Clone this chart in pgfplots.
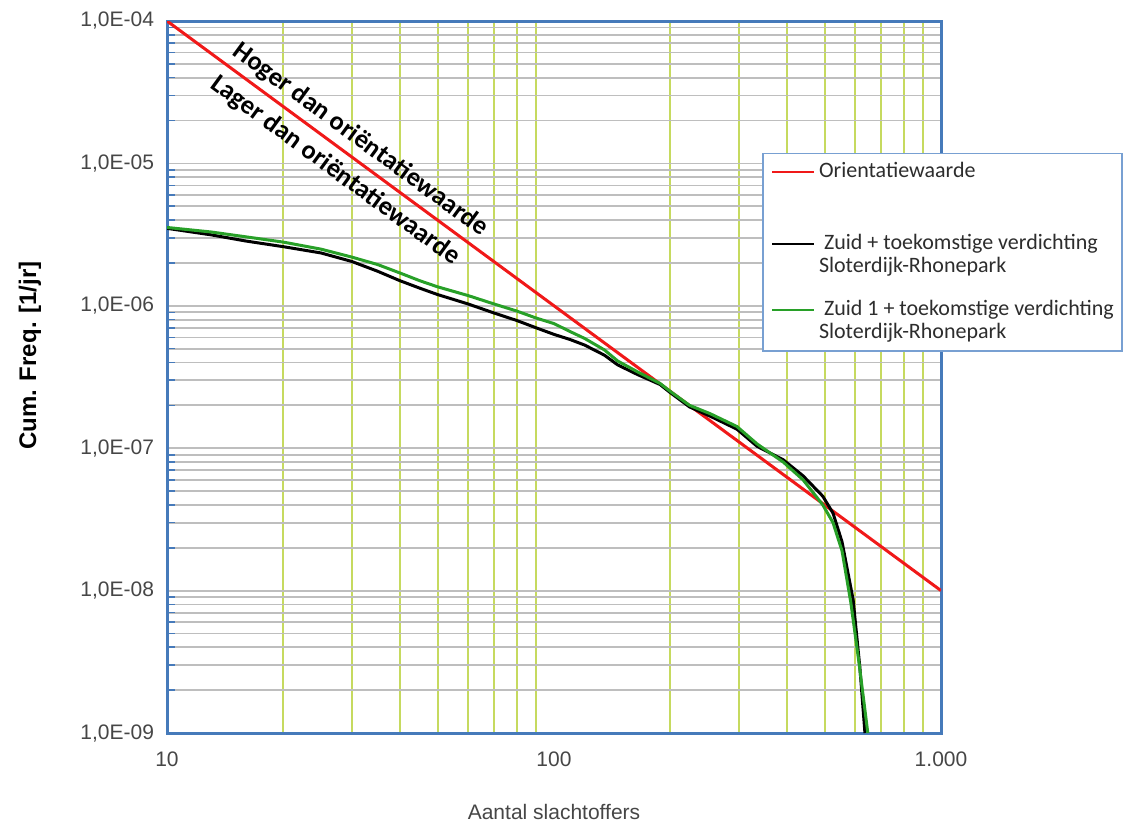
\documentclass[border=0pt]{standalone}
\usepackage{fontspec}
\setmainfont{Liberation Sans}
\newfontfamily\carlito{Carlito}
\usepackage{pgfplots}
\pgfplotsset{compat=1.18}
\usetikzlibrary{calc}
\definecolor{frameblue}{RGB}{70,122,186}
\definecolor{xgrid}{RGB}{198,218,95}
\definecolor{ygrid}{RGB}{190,190,190}
\definecolor{cgreen}{RGB}{40,160,40}
\definecolor{cred}{RGB}{240,25,25}
\definecolor{legborder}{RGB}{120,160,210}
\definecolor{tickgray}{RGB}{70,70,70}
\definecolor{legtext}{RGB}{45,45,45}
\pgfplotsset{
  leglineA/.style={legend image code/.code={\draw[##1, line width=1pt] (0pt,0pt) -- (21pt,0pt);}},
  leglineB/.style={legend image code/.code={\draw[##1, line width=1pt] (0pt,5.5pt) -- (21pt,5.5pt);}},
}

\begin{document}
\begin{tikzpicture}
\begin{axis}[name=ax,
  scale only axis, width=387pt, height=356pt,
  xmode=log, ymode=log,
  xmin=10, xmax=1000, ymin=1e-9, ymax=1e-4,
  xtick={10,100,1000}, xticklabels={10,100,1.000},
  ytick={1e-9,1e-8,1e-7,1e-6,1e-5,1e-4},
  yticklabels={{1,0E-09},{1,0E-08},{1,0E-07},{1,0E-06},{1,0E-05},{1,0E-04}},
  minor xtick={20,30,40,50,60,70,80,90,200,300,400,500,600,700,800,900},
  minor ytick={2e-9,3e-9,4e-9,5e-9,6e-9,7e-9,8e-9,9e-9,
               2e-8,3e-8,4e-8,5e-8,6e-8,7e-8,8e-8,9e-8,
               2e-7,3e-7,4e-7,5e-7,6e-7,7e-7,8e-7,9e-7,
               2e-6,3e-6,4e-6,5e-6,6e-6,7e-6,8e-6,9e-6,
               2e-5,3e-5,4e-5,5e-5,6e-5,7e-5,8e-5,9e-5},
  xmajorgrids=false, xminorgrids=true,
  ymajorgrids=true, yminorgrids=true,
  minor x grid style={xgrid, line width=1pt},
  major y grid style={ygrid, line width=0.9pt},
  minor y grid style={ygrid, line width=0.9pt},
  axis line style={frameblue, line width=1.5pt},
  ytick pos=left,
  major tick length=0pt, minor tick length=4pt,
  minor x tick style={draw=none},
  minor y tick style={frameblue, line width=0.8pt},
  tick label style={font=\fontsize{10.5}{12}\selectfont, text=tickgray},
  xticklabel style={yshift=-6pt},
  yticklabel style={xshift=-3pt},
  xlabel={Aantal slachtoffers},
  ylabel={\bfseries Cum. Freq. [1/jr]},
  xlabel style={at={(axis description cs:0.5,-0.111)}, anchor=center,
     font=\fontsize{10.5}{12}\selectfont, text=tickgray},
  ylabel style={at={(axis description cs:-0.177,0.53)}, anchor=center,
     font=\fontsize{12}{14}\selectfont},
  legend cell align=left,
  legend style={at={(0.769,0.815)}, anchor=north west,
     draw=legborder, line width=0.8pt, fill=white,
     font=\carlito\fontsize{11}{11.5}\selectfont, text=legtext,
     nodes={inner sep=0pt, align=left},
     row sep=12.6pt, column sep=2pt,
     inner xsep=4pt, inner ysep=4.5pt},
]
\addplot[cred, line width=1.5pt, leglineA]
  coordinates {(10,1e-4) (1000,1e-8)};
\addlegendentry{Orientatiewaarde}
\addlegendimage{empty legend}
\addlegendentry{}
\addplot[black, line width=1.5pt, leglineB]
  coordinates {
(10,3.5e-6) (13,3.15e-6) (16,2.85e-6) (20,2.6e-6) (25,2.35e-6) (30,2.05e-6)
(35,1.75e-6) (40,1.5e-6) (45,1.33e-6) (50,1.2e-6) (60,1.03e-6) (70,8.9e-7)
(80,7.9e-7) (90,7.0e-7) (100,6.3e-7) (110,5.8e-7) (120,5.3e-7) (135,4.5e-7)
(146,3.85e-7) (164,3.3e-7) (188,2.8e-7) (200,2.45e-7) (224,1.95e-7)
(253,1.68e-7) (297,1.36e-7) (335,1.03e-7) (391,8.3e-8) (440,6.4e-8)
(495,4.6e-8) (526,3.5e-8) (555,2.2e-8) (593,8.6e-9) (617,2.9e-9) (636,1e-9)
};
\addlegendentry{\hspace{2.5pt}Zuid + toekomstige verdichting\\Sloterdijk-Rhonepark}
\addplot[cgreen, line width=1.5pt, leglineB]
  coordinates {
(10,3.55e-6) (13,3.3e-6) (16,3.05e-6) (20,2.8e-6) (25,2.5e-6) (30,2.2e-6)
(35,1.95e-6) (40,1.7e-6) (45,1.5e-6) (50,1.36e-6) (60,1.18e-6) (70,1.03e-6)
(80,9.2e-7) (90,8.2e-7) (100,7.5e-7) (110,6.6e-7) (120,5.9e-7) (135,4.9e-7)
(146,4.1e-7) (164,3.45e-7) (188,2.85e-7) (200,2.5e-7) (224,2.0e-7)
(253,1.75e-7) (297,1.42e-7) (335,1.07e-7) (391,8.0e-8) (440,6.0e-8)
(495,4.0e-8) (526,3.0e-8) (555,1.9e-8) (585,8.2e-9) (615,3e-9) (647,1e-9)
};
\addlegendentry{\hspace{2.5pt}Zuid 1 + toekomstige verdichting\\Sloterdijk-Rhonepark}
\node[rotate=-36.2, font=\carlito\bfseries\fontsize{13.2}{15}\selectfont]
  at (axis cs:31.6,1.46e-5) {Hoger dan oriëntatiewaarde};
\node[rotate=-36.2, font=\carlito\bfseries\fontsize{13.2}{15}\selectfont]
  at (axis cs:27.2,8.9e-6) {Lager dan oriëntatiewaarde};
\end{axis}
\pgfresetboundingbox
\path[use as bounding box] ($(ax.south west)+(-83.5pt,-45pt)$) rectangle ($(ax.north east)+(94pt,10.5pt)$);
\end{tikzpicture}
\end{document}
